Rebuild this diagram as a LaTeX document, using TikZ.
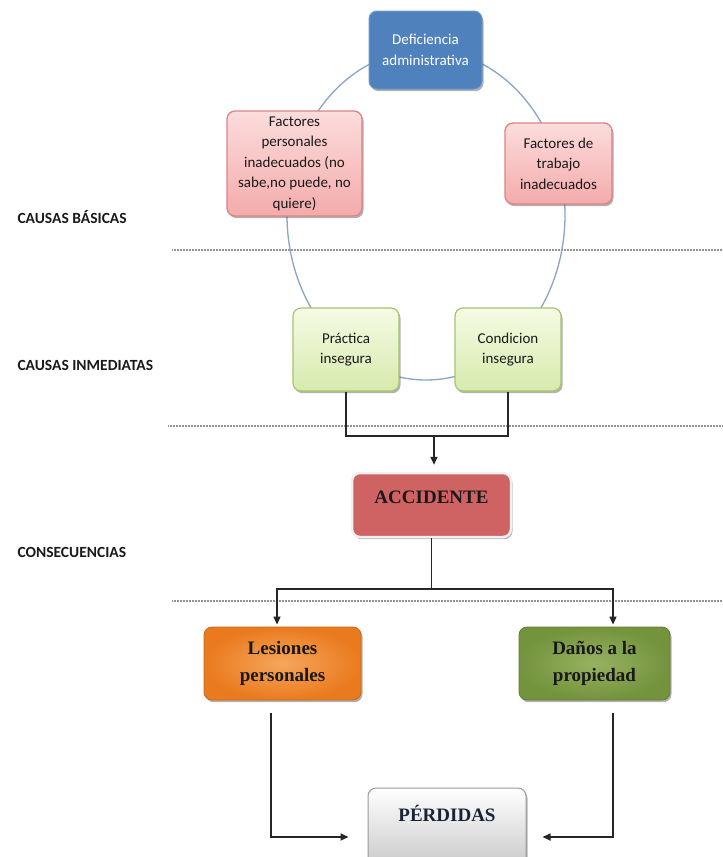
\documentclass[tikz,border=0pt]{standalone}
\usepackage{fontspec}
\setmainfont{Carlito}
\newfontfamily\serifbold{Liberation Serif}
\usetikzlibrary{shadows,arrows.meta}
\definecolor{defblue}{HTML}{4F81BD}
\definecolor{defedge}{HTML}{6F97C8}
\definecolor{pinktop}{HTML}{FCDCDC}
\definecolor{pinkbot}{HTML}{F4ABAB}
\definecolor{pinkedge}{HTML}{D98585}
\definecolor{greentop}{HTML}{F6FBE4}
\definecolor{greenbot}{HTML}{D6EAAD}
\definecolor{greenedge}{HTML}{A8C46E}
\definecolor{accred}{HTML}{CF6262}
\definecolor{orin}{HTML}{F6A65C}
\definecolor{orout}{HTML}{EA7A1E}
\definecolor{grin}{HTML}{97B262}
\definecolor{grout}{HTML}{74933D}
\definecolor{cycline}{HTML}{8AA4C6}
\definecolor{labtext}{HTML}{1A1A1A}
\definecolor{perdtext}{HTML}{1B2136}
\begin{document}
\begin{tikzpicture}[x=1pt,y=-1pt,
  shad/.style={drop shadow={shadow xshift=1.5pt,shadow yshift=-2.2pt,opacity=0.3,fill=black}},
  basebox/.style={rounded corners=8pt,align=center,inner sep=2pt,shad},
  calibritext/.style={font=\fontsize{15}{20.5}\selectfont},
  bluebox/.style={basebox,calibritext,fill=defblue,draw=defedge,line width=1pt,text=white},
  pinkbox/.style={basebox,calibritext,top color=pinktop,bottom color=pinkbot,draw=pinkedge,line width=1.3pt,text=black!90},
  greenbox/.style={basebox,calibritext,top color=greentop,bottom color=greenbot,draw=greenedge,line width=1.2pt,text=black!90},
  serifbox/.style={basebox,font=\serifbold\bfseries\fontsize{19}{27}\selectfont,text=black!90},
  cyc/.style={draw=cycline,line width=1.3pt},
  sep/.style={draw=gray!85,line width=1.8pt,dash pattern=on 0.8pt off 0.7pt},
  conn/.style={draw=black!85,line width=1.6pt},
  arr/.style={conn,-{Triangle[length=8pt,width=7pt]}},
  lab/.style={anchor=west,font=\bfseries\fontsize{15.5}{18}\selectfont,text=labtext}
]
\clip (0,0) rectangle (723,857);
\fill[white] (0,0) rectangle (723,857);

% separators
\draw[sep] (172,250) -- (723,250);
\draw[sep] (168,426) -- (723,426);
\draw[sep] (172,601) -- (723,601);

% cycle
\draw[cyc] (426,215) ellipse [x radius=139, y radius=165];

% side labels
\node[lab] (lb1) at (14,217) {CAUSAS BÁSICAS};
\node[lab] (lb2) at (14,365) {CAUSAS INMEDIATAS};
\node[lab] (lb3) at (14,552) {CONSECUENCIAS};

% cycle nodes
\node[bluebox,minimum width=113pt,minimum height=78pt] (def) at (425.5,50) {Deficiencia\\administrativa};
\node[pinkbox,minimum width=135pt,minimum height=105pt] (fp) at (294.5,163.5) {Factores\\personales\\inadecuados (no\\sabe,no puede, no\\quiere)};
\node[pinkbox,minimum width=107pt,minimum height=81pt] (ft) at (558.5,163.5) {Factores de\\trabajo\\inadecuados};
\node[greenbox,minimum width=106pt,minimum height=83pt] (prac) at (346,349.5) {Práctica\\insegura};
\node[greenbox,minimum width=106pt,minimum height=83pt] (cond) at (508,349.5) {Condicion\\insegura};

% accident
\node[serifbox,fill=accred,draw=white!94!black,line width=2.5pt,minimum width=159pt,
      text height=25pt,text depth=29pt,inner ysep=5pt] (acc) at (431.5,505) {ACCIDENTE};

% consequences
\node[serifbox,inner color=orin,outer color=orout,draw=orout!85!black,line width=0.8pt,
      minimum width=157pt,minimum height=73pt] (les) at (282.5,663.5) {Lesiones\\personales};
\node[serifbox,inner color=grin,outer color=grout,draw=grout!85!black,line width=0.8pt,
      minimum width=151pt,minimum height=73pt] (dan) at (594.5,663.5) {Daños a la\\propiedad};

% losses
\node[serifbox,top color=white,bottom color=black!22,draw=black!40,line width=1pt,text=perdtext,
      minimum width=158pt,text height=23pt,text depth=39pt,inner ysep=10pt] (perd) at (447,829) {PÉRDIDAS};

% connectors
\coordinate (jn) at (434,436);
\draw[conn] (prac.south) |- (jn) -| (cond.south);
\draw[arr,shorten >=7pt] (jn) -- (jn |- acc.north);

\coordinate (bL) at (277,589);
\coordinate (bR) at (613,589);
\draw[conn] (acc.south) -- (acc.south |- bL);
\draw[arr,shorten >=2pt] (acc.south |- bL) -| (bL |- les.north);
\draw[arr,shorten >=2pt] (acc.south |- bL) -| (bR |- dan.north);

\draw[arr,shorten >=19pt] ([xshift=-11.5pt,yshift=-13pt]les.south) |- ([yshift=-8pt]perd.west);
\draw[arr,shorten >=16pt] ([xshift=18.5pt,yshift=-13pt]dan.south) |- ([yshift=-8pt]perd.east);
\end{tikzpicture}
\end{document}
